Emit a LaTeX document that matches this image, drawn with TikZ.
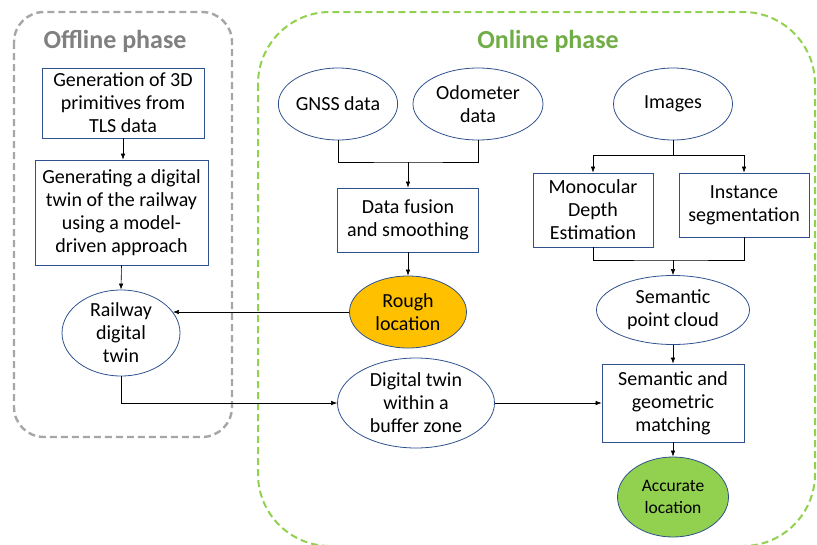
\documentclass[tikz,border=0pt]{standalone}
\usepackage{fontspec}
\setmainfont{Carlito}
\usetikzlibrary{shapes.geometric,arrows.meta}
\definecolor{edge}{RGB}{47,82,143}
\definecolor{offgray}{RGB}{166,166,166}
\definecolor{offtext}{RGB}{128,128,128}
\definecolor{ongreen}{RGB}{146,208,80}
\definecolor{ontext}{RGB}{112,173,71}
\definecolor{roughfill}{RGB}{255,192,0}
\definecolor{accfill}{RGB}{146,208,80}
\tikzset{
  box/.style={draw=edge, line width=0.8pt, rectangle, inner sep=0pt, align=center,
    font=\fontsize{20}{23}\selectfont},
  ell/.style={draw=edge, line width=0.8pt, ellipse, inner sep=0pt, align=center,
    font=\fontsize{20}{23}\selectfont},
  arr/.style={draw=black, line width=0.6pt, -{Latex[length=6pt,width=4.5pt]}},
  ln/.style={draw=black, line width=0.6pt},
  phasetitle/.style={font=\fontsize{26}{28}\selectfont\bfseries}
}
\begin{document}
\begin{tikzpicture}[x=1pt,y=-1pt]
\useasboundingbox (0,0) rectangle (817,544);
% phase frames
\draw[offgray, line width=2.4pt, dash pattern=on 7pt off 4pt, rounded corners=30pt]
  (14,12) rectangle (232,437);
\draw[ongreen, line width=2pt, dash pattern=on 7pt off 4pt, rounded corners=72pt]
  (258,12) rectangle (815,546);
\node[phasetitle, text=offtext] (offt) at (115,41) {Offline phase};
\node[phasetitle, text=ontext] (ont) at (548,41) {Online phase};
% offline
\node[box, minimum width=162pt, minimum height=70pt] (b1) at (123,103)
  {Generation of 3D\\primitives from\\TLS data};
\node[box, minimum width=173pt, minimum height=105pt] (b2) at (121.5,212.5)
  {Generating a digital\\twin of the railway\\using a model-\\driven approach};
\node[ell, minimum width=118pt, minimum height=86pt] (rdt) at (121,333)
  {Railway\\digital\\twin};
% online
\node[ell, minimum width=119pt, minimum height=72pt] (gnss) at (338,104) {GNSS data};
\node[ell, minimum width=130pt, minimum height=72pt] (odo) at (478,104) {Odometer\\data};
\node[box, minimum width=141pt, minimum height=64pt] (fus) at (408,220)
  {Data fusion\\and smoothing};
\node[ell, fill=roughfill, minimum width=117pt, minimum height=72pt] (rough) at (408,312)
  {Rough\\location};
\node[ell, minimum width=119pt, minimum height=72pt] (img) at (673,104) {Images};
\node[box, minimum width=120pt, minimum height=74pt] (mono) at (593,210)
  {Monocular\\Depth\\Estimation};
\node[box, minimum width=130pt, minimum height=64pt] (inst) at (744,205)
  {Instance\\segmentation};
\node[ell, minimum width=153pt, minimum height=69pt] (spc) at (673,310)
  {Semantic\\point cloud};
\node[box, minimum width=142pt, minimum height=78pt] (sgm) at (673,403)
  {Semantic and\\geometric\\matching};
\node[ell, fill=accfill, minimum width=111pt, minimum height=80pt,
  font=\fontsize{17.5}{21.5}\selectfont] (acc) at (673,497) {Accurate\\location};
\node[ell, minimum width=157pt, minimum height=90pt] (dt) at (416,403)
  {Digital twin\\within a\\buffer zone};
% junctions
\coordinate (j1) at (408,162);
\coordinate (j2) at (673,155);
\coordinate (j3) at (673,260);
% connectors
\draw[arr] (b1.south) -- (b1.south |- b2.north);
\draw[arr] (b2.south) -- (rdt.north);
\draw[arr] (rough.west) -- (rdt.22 |- rough.west);
\draw[arr] (rdt.south) |- (dt.west);
\draw[ln] (gnss.south) |- (j1) -| (odo.south);
\draw[arr] (j1) -- (fus.north);
\draw[arr] (fus.south) -- (rough.north);
\draw[ln] (img.south) -- (j2);
\draw[arr] (j2) -| (mono.north);
\draw[arr] (j2) -| (inst.north);
\draw[ln] (mono.south) |- (j3) -| (inst.south);
\draw[arr] (j3) -- (spc.north);
\draw[arr] (spc.south) -- (sgm.north);
\draw[arr] (sgm.south) -- (acc.north);
\draw[arr] (dt.east) -- (sgm.west);
\end{tikzpicture}
\end{document}
